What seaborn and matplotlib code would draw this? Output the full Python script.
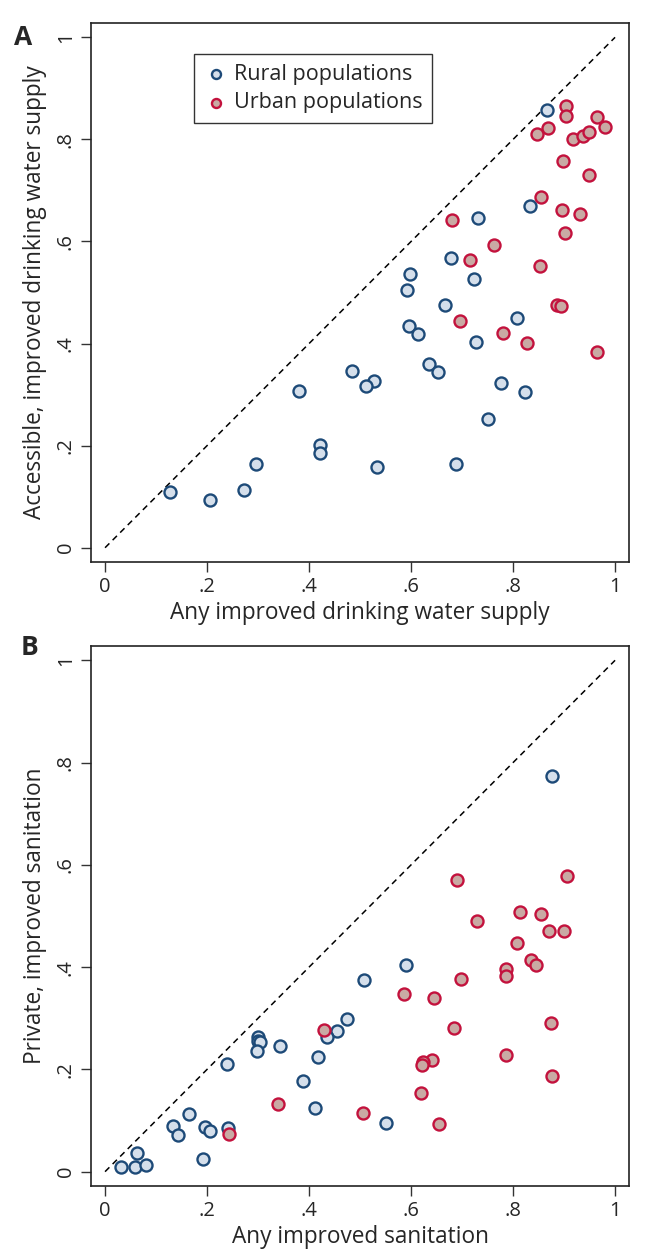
import seaborn as sns
import matplotlib.pyplot as plt
import pandas as pd

# Panel A: drinking water (any improved vs accessible improved)
rural_water_any = [0.867, 0.834, 0.732, 0.678, 0.598, 0.724, 0.592, 0.667, 0.808, 0.595,
                   0.614, 0.727, 0.635, 0.653, 0.484, 0.527, 0.512, 0.381, 0.777, 0.824,
                   0.750, 0.422, 0.422, 0.296, 0.533, 0.689, 0.272, 0.127, 0.206]
rural_water_acc = [0.857, 0.669, 0.646, 0.568, 0.537, 0.527, 0.505, 0.475, 0.451, 0.435,
                   0.418, 0.403, 0.360, 0.344, 0.346, 0.326, 0.316, 0.308, 0.322, 0.305,
                   0.252, 0.201, 0.186, 0.165, 0.158, 0.165, 0.114, 0.110, 0.093]
urban_water_any = [0.904, 0.904, 0.847, 0.868, 0.964, 0.980, 0.918, 0.938, 0.949, 0.898,
                   0.948, 0.855, 0.895, 0.931, 0.901, 0.681, 0.763, 0.715, 0.853, 0.887,
                   0.894, 0.695, 0.781, 0.827, 0.964]
urban_water_acc = [0.865, 0.845, 0.811, 0.823, 0.843, 0.824, 0.801, 0.806, 0.815, 0.758,
                   0.731, 0.688, 0.662, 0.654, 0.617, 0.643, 0.594, 0.564, 0.551, 0.476,
                   0.474, 0.444, 0.421, 0.402, 0.384]

# Panel B: sanitation (any improved vs private improved)
rural_san_any = [0.877, 0.591, 0.507, 0.474, 0.455, 0.436, 0.299, 0.299, 0.304, 0.343,
                 0.297, 0.418, 0.239, 0.388, 0.412, 0.551, 0.165, 0.133, 0.143, 0.195,
                 0.206, 0.241, 0.192, 0.062, 0.032, 0.058, 0.081]
rural_san_priv = [0.774, 0.404, 0.375, 0.299, 0.275, 0.263, 0.263, 0.255, 0.253, 0.246,
                  0.235, 0.224, 0.211, 0.178, 0.124, 0.095, 0.112, 0.089, 0.071, 0.088,
                  0.080, 0.085, 0.024, 0.036, 0.009, 0.009, 0.014]
urban_san_any = [0.690, 0.905, 0.814, 0.855, 0.729, 0.871, 0.900, 0.807, 0.835, 0.845,
                 0.787, 0.786, 0.698, 0.586, 0.644, 0.875, 0.684, 0.430, 0.642, 0.623,
                 0.621, 0.787, 0.876, 0.619, 0.340, 0.505, 0.654, 0.244]
urban_san_priv = [0.570, 0.579, 0.507, 0.504, 0.491, 0.471, 0.471, 0.448, 0.414, 0.405,
                  0.397, 0.382, 0.376, 0.348, 0.339, 0.290, 0.280, 0.278, 0.219, 0.215,
                  0.209, 0.228, 0.188, 0.154, 0.132, 0.114, 0.094, 0.074]

ticks = [0, 0.2, 0.4, 0.6, 0.8, 1.0]
tick_labels = ["0", ".2", ".4", ".6", ".8", "1"]

sns.set_theme(style="white")
plt.rcParams['font.family'] = ['Open Sans', 'DejaVu Sans']

rural_face, rural_edge = "#d5dfeb", "#1d4a78"
urban_face, urban_edge = "#c9aaa4", "#c3123d"

fig = plt.figure(figsize=(6.53, 12.59), dpi=100)
ax_a = fig.add_axes([0.1394, 0.5536, 0.824, 0.4281])
ax_b = fig.add_axes([0.1394, 0.0580, 0.824, 0.4289])

panels = [
    (ax_a, rural_water_any, rural_water_acc, urban_water_any, urban_water_acc,
     "Any improved drinking water supply", "Accessible, improved drinking water supply"),
    (ax_b, rural_san_any, rural_san_priv, urban_san_any, urban_san_priv,
     "Any improved sanitation", "Private, improved sanitation"),
]

for ax, rx, ry, ux, uy, xlab, ylab in panels:
    df = pd.DataFrame({
        "x": rx + ux,
        "y": ry + uy,
        "group": ["Rural populations"] * len(rx) + ["Urban populations"] * len(ux),
    })
    ax.plot([0, 1], [0, 1], color="black", lw=1.1, ls=(0, (4, 3)), zorder=1)
    sns.scatterplot(data=df[df.group == "Rural populations"], x="x", y="y", ax=ax,
                    color=rural_face, edgecolor=rural_edge, linewidth=1.7, s=75,
                    label="Rural populations", zorder=3)
    sns.scatterplot(data=df[df.group == "Urban populations"], x="x", y="y", ax=ax,
                    color=urban_face, edgecolor=urban_edge, linewidth=1.7, s=75,
                    label="Urban populations", zorder=3)
    ax.set_xlim(-0.0275, 1.0275)
    ax.set_ylim(-0.028, 1.028)
    ax.set_xticks(ticks)
    ax.set_xticklabels(tick_labels)
    ax.set_yticks(ticks)
    ax.set_yticklabels(tick_labels, rotation=90, va="center")
    ax.tick_params(axis="both", which="major", direction="out", length=7, width=1,
                   color="#333333", labelsize=14.5, pad=4, bottom=True, left=True)
    ax.set_xlabel(xlab, fontsize=16.3, labelpad=3)
    ax.set_ylabel(ylab, fontsize=16.3, labelpad=6)
    for sp in ax.spines.values():
        sp.set_color("#222222")
        sp.set_linewidth(1.2)

fig.text(14 / 653, 1 - 24 / 1259, "A", fontsize=19, fontweight="bold", ha="left", va="top")
fig.text(21 / 653, 1 - 634 / 1259, "B", fontsize=19, fontweight="bold", ha="left", va="top")

leg = ax_a.legend(loc="upper left", bbox_to_anchor=(0.191, 0.9425), borderaxespad=0,
                  fontsize=15.5, frameon=True, fancybox=False, edgecolor="black",
                  markerscale=0.75, handletextpad=0.2, borderpad=0.45, labelspacing=0.35,
                  handlelength=1.2)
leg.get_frame().set_linewidth(1.0)
ax_b.get_legend().remove()

fig.savefig("out.png", dpi=100)
